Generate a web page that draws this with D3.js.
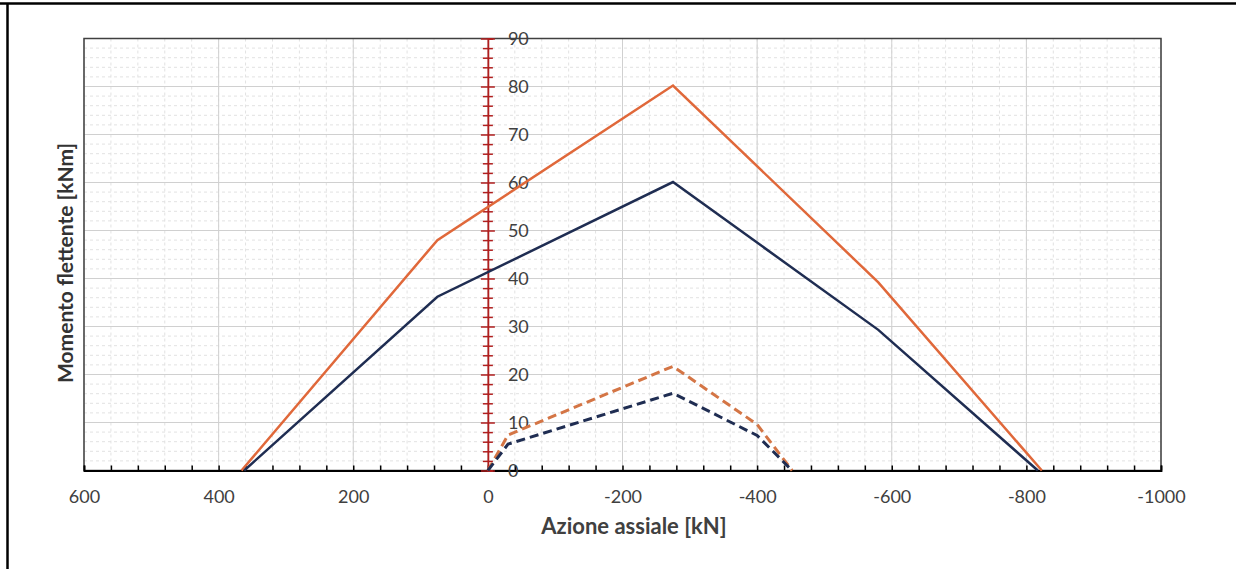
<!DOCTYPE html>
<html>
<head>
<meta charset="utf-8">
<script src="https://cdn.jsdelivr.net/npm/d3@7"></script>
<style>
  html, body { margin: 0; padding: 0; background: #fff; }
  svg { display: block; font-family: Lato, "Open Sans", sans-serif; }
</style>
</head>
<body>
<div id="chart"></div>
<script>
// axial force [kN] and bending moment [kNm]
const axialOuter = [366, 75, -275, -580, -823];
const momentOrange = [0, 48, 80.2, 39.2, 0];
const axialBlue = [362, 75, -275, -580, -817];
const momentBlue = [0, 36.2, 60.1, 29.3, 0];
const axialInner = [0, -30, -275, -400, -452];
const momentOrangeDash = [0, 7.4, 21.7, 9.6, 0];
const momentBlueDash = [0, 5.5, 16.1, 7.3, 0];

const xMajor = [600, 400, 200, 0, -200, -400, -600, -800, -1000];
const yMajor = [0, 10, 20, 30, 40, 50, 60, 70, 80, 90];

const width = 1236, height = 569;
const plotL = 84, plotR = 1161, plotT = 38.5, plotB = 470.5;

const svg = d3.select("#chart")
  .append("svg")
  .attr("width", width)
  .attr("height", height);

// outer frame (only top and left edges are inside the picture)
svg.append("line").attr("x1", 0).attr("x2", width).attr("y1", 3.5).attr("y2", 3.5)
  .attr("stroke", "#000").attr("stroke-width", 2.5);
svg.append("line").attr("x1", 7.5).attr("x2", 7.5).attr("y1", 3).attr("y2", height)
  .attr("stroke", "#000").attr("stroke-width", 2.5);

const x = d3.scaleLinear().domain([600, -1000]).range([plotL, plotR]);
const y = d3.scaleLinear().domain([0, 90]).range([plotB, plotT]);

// minor grid
const g = svg.append("g");
g.selectAll(".vmin")
  .data(d3.range(600, -1001, -40))
  .join("line")
  .attr("x1", d => x(d)).attr("x2", d => x(d))
  .attr("y1", plotT).attr("y2", plotB)
  .attr("stroke", "#e2e2e2").attr("stroke-width", 1)
  .attr("stroke-dasharray", "3,3");
g.selectAll(".hmin")
  .data(d3.range(0, 91, 2))
  .join("line")
  .attr("x1", plotL).attr("x2", plotR)
  .attr("y1", d => y(d)).attr("y2", d => y(d))
  .attr("stroke", "#e2e2e2").attr("stroke-width", 1)
  .attr("stroke-dasharray", "3,3");

// major grid
g.selectAll(".vmaj")
  .data(xMajor)
  .join("line")
  .attr("x1", d => x(d)).attr("x2", d => x(d))
  .attr("y1", plotT).attr("y2", plotB)
  .attr("stroke", "#d0d0d0").attr("stroke-width", 1);
g.selectAll(".hmaj")
  .data(yMajor)
  .join("line")
  .attr("x1", plotL).attr("x2", plotR)
  .attr("y1", d => y(d)).attr("y2", d => y(d))
  .attr("stroke", "#d0d0d0").attr("stroke-width", 1);

// plot border
svg.append("rect")
  .attr("x", plotL).attr("y", plotT)
  .attr("width", plotR - plotL).attr("height", plotB - plotT)
  .attr("fill", "none").attr("stroke", "#404040").attr("stroke-width", 1.5);

// x axis with inward minor ticks
const xTicks = svg.append("g")
  .attr("transform", `translate(0,${plotB})`)
  .call(d3.axisBottom(x).tickValues(d3.range(600, -1001, -40)).tickSize(-5).tickFormat(""));
xTicks.select(".domain").attr("stroke", "#000").attr("stroke-width", 1.8);
xTicks.selectAll(".tick line").attr("stroke", "#000").attr("stroke-width", 1.5);

const xLabels = svg.append("g")
  .attr("transform", `translate(0,${plotB})`)
  .call(d3.axisBottom(x).tickValues(xMajor).tickSize(0).tickPadding(20).tickFormat(d => String(d)));
xLabels.select(".domain").remove();
xLabels.selectAll("text")
  .attr("font-family", "Lato, sans-serif")
  .attr("font-size", 18)
  .attr("fill", "#404040");

// red vertical axis at N = 0 with crossing ticks
const yAxis = svg.append("g")
  .attr("transform", `translate(${x(0)},0)`)
  .call(d3.axisRight(y).tickValues(d3.range(0, 91, 2)).tickSize(5).tickFormat(""));
yAxis.select(".domain").attr("stroke", "#b01e1e").attr("stroke-width", 1.8);
yAxis.selectAll(".tick line")
  .attr("x1", d => d % 10 === 0 ? -7 : -5)
  .attr("x2", d => d % 10 === 0 ? 7 : 5)
  .attr("stroke", "#b01e1e").attr("stroke-width", 1.5);

const yLabels = svg.append("g")
  .attr("transform", `translate(${x(0)},0)`)
  .call(d3.axisRight(y).tickValues(yMajor).tickSize(0).tickPadding(20).tickFormat(d => String(d)));
yLabels.select(".domain").remove();
yLabels.selectAll("text")
  .attr("font-family", "Lato, sans-serif")
  .attr("font-size", 18)
  .attr("fill", "#404040");

// curves
const line = d3.line().x(d => x(d[0])).y(d => y(d[1]));
const series = [
  { n: axialOuter, m: momentOrange, color: "#e0683a", dash: null },
  { n: axialBlue, m: momentBlue, color: "#1f2d52", dash: null },
  { n: axialInner, m: momentOrangeDash, color: "#d47545", dash: "9,5" },
  { n: axialInner, m: momentBlueDash, color: "#1f2d52", dash: "9,5" }
];
svg.selectAll(".curve")
  .data(series)
  .join("path")
  .attr("class", "curve")
  .attr("fill", "none")
  .attr("stroke", d => d.color)
  .attr("stroke-width", d => d.dash ? 3 : 2.5)
  .attr("stroke-dasharray", d => d.dash)
  .attr("stroke-linejoin", "miter")
  .attr("d", d => line(d.n.map((v, i) => [v, d.m[i]])));

// axis titles
svg.append("text")
  .attr("x", 634).attr("y", 534)
  .attr("text-anchor", "middle")
  .attr("font-size", 22).attr("font-weight", "bold")
  .attr("fill", "#404040")
  .text("Azione assiale [kN]");

svg.append("text")
  .attr("transform", "translate(73,263) rotate(-90)")
  .attr("text-anchor", "middle")
  .attr("font-size", 21).attr("font-weight", "bold")
  .attr("fill", "#333")
  .text("Momento flettente [kNm]");
</script>
</body>
</html>
